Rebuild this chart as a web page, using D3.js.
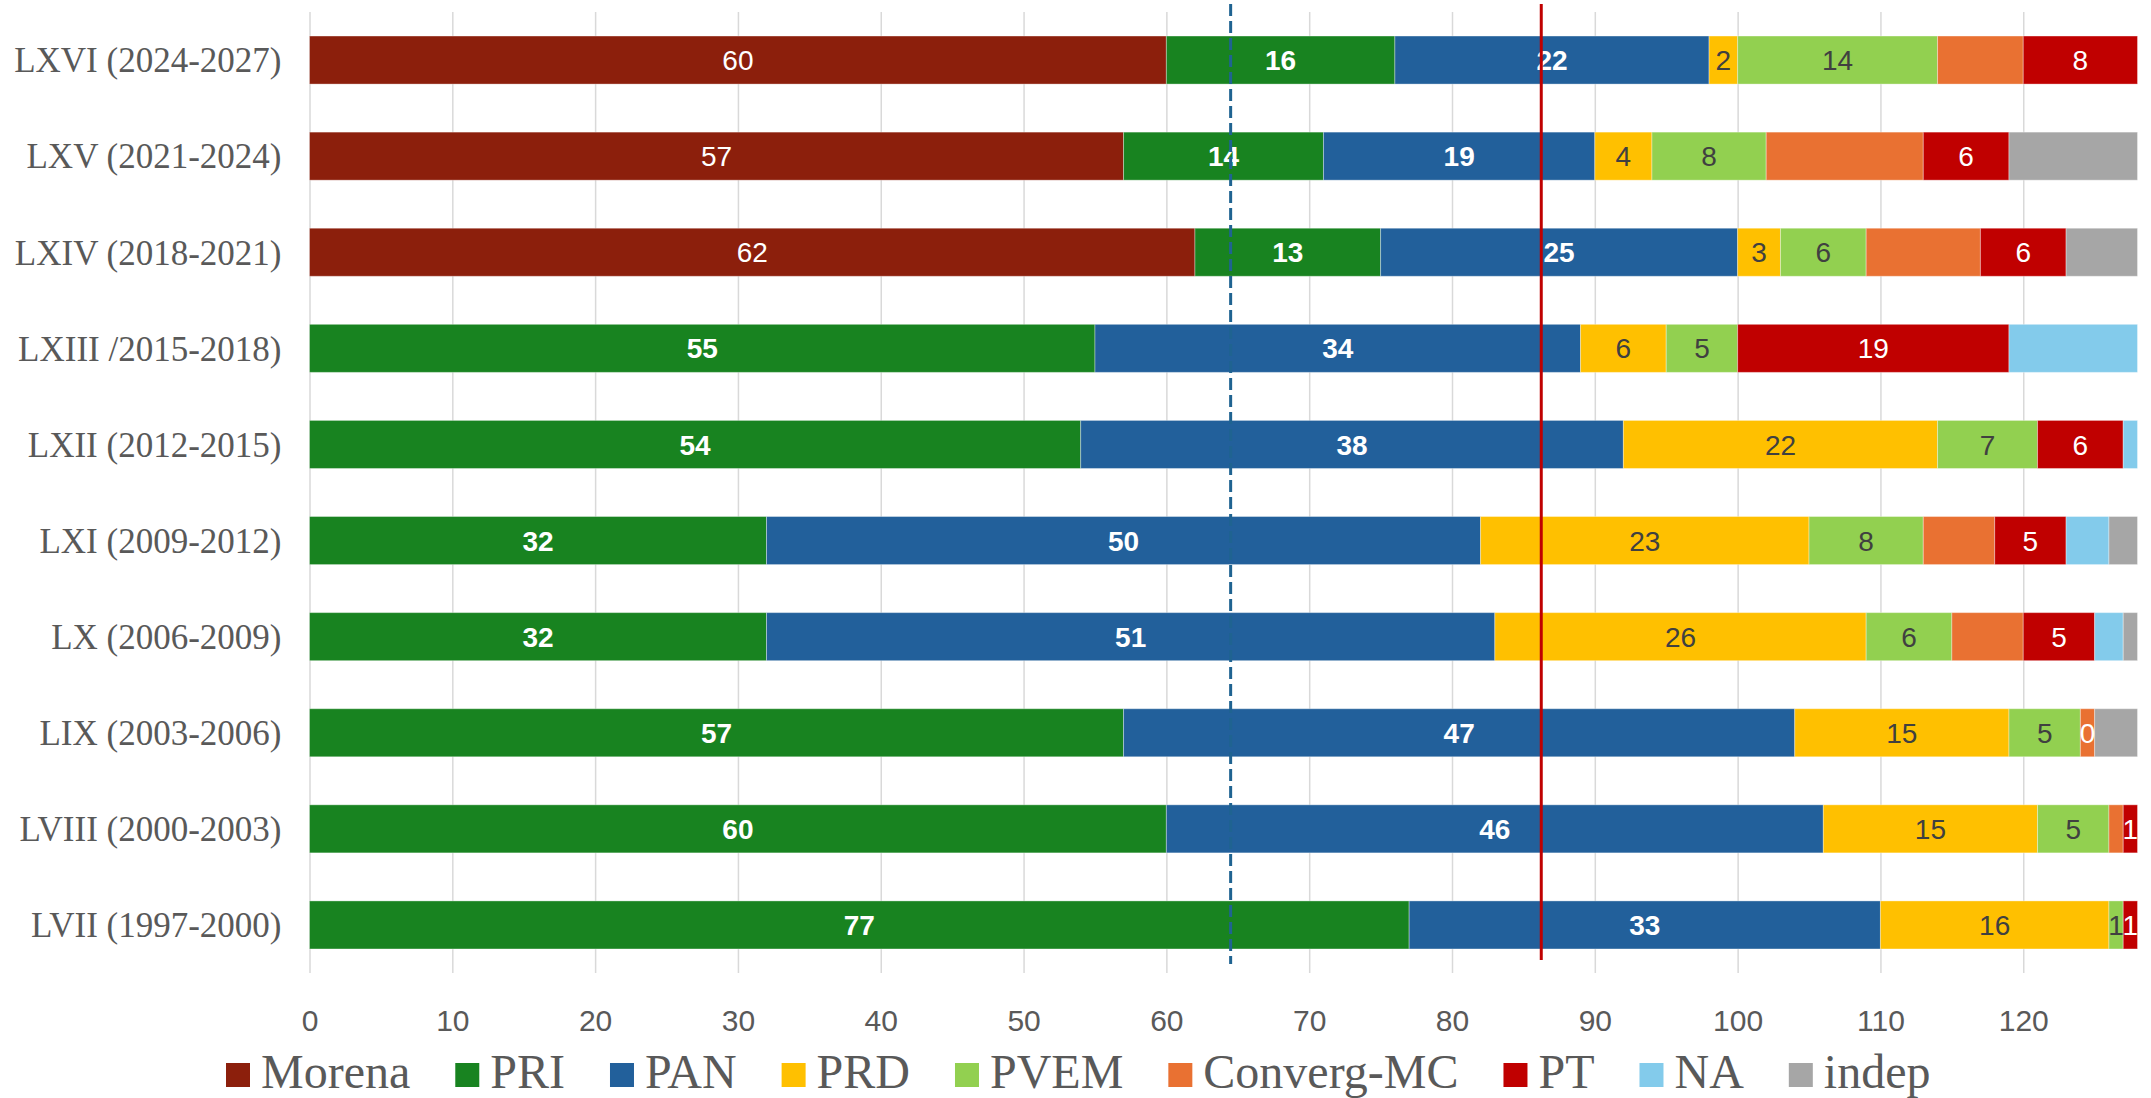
<!DOCTYPE html>
<html>
<head>
<meta charset="utf-8">
<script src="https://cdn.jsdelivr.net/npm/d3@7"></script>
<style>
  body { margin: 0; background: #fff; }
</style>
</head>
<body>
<svg id="chart" width="2151" height="1098"></svg>
<script>
// legislatures, top to bottom
var congresses = ["LXVI (2024-2027)", "LXV (2021-2024)", "LXIV (2018-2021)", "LXIII /2015-2018)",
  "LXII (2012-2015)", "LXI (2009-2012)", "LX (2006-2009)", "LIX (2003-2006)",
  "LVIII (2000-2003)", "LVII (1997-2000)"];

var parties = ["Morena", "PRI", "PAN", "PRD", "PVEM", "Converg-MC", "PT", "NA", "indep"];
var colors = ["#8c1f0c", "#188320", "#22609b", "#ffc000", "#92d050", "#e97132", "#c00000", "#83cbeb", "#a6a6a6"];

// seats per party, same order as congresses
var morena  = [60, 57, 62, 0, 0, 0, 0, 0, 0, 0];
var pri     = [16, 14, 13, 55, 54, 32, 32, 57, 60, 77];
var pan     = [22, 19, 25, 34, 38, 50, 51, 47, 46, 33];
var prd     = [2, 4, 3, 6, 22, 23, 26, 15, 15, 16];
var pvem    = [14, 8, 6, 5, 7, 8, 6, 5, 5, 1];
var converg = [6, 11, 8, 0, 0, 5, 5, 1, 1, 0];
var pt      = [8, 6, 6, 19, 6, 5, 5, 0, 1, 1];
var na      = [0, 0, 0, 9, 1, 3, 2, 0, 0, 0];
var indep   = [0, 9, 5, 0, 0, 2, 1, 3, 0, 0];

// labels as they appear on the converg series (only one shown)
var convergLabels = ["", "", "", "", "", "", "", "0", "", ""];

var xTicks = [0, 10, 20, 30, 40, 50, 60, 70, 80, 90, 100, 110, 120];
var xMax = 128;
var halfLine = 64.5;       // dashed
var twoThirdsLine = 86.25; // red

var series = [morena, pri, pan, prd, pvem, converg, pt, na, indep];

var svg = d3.select("#chart"),
    margin = {top: 12, right: 13.5, bottom: 125, left: 309.5},
    width = +svg.attr("width") - margin.left - margin.right,
    height = +svg.attr("height") - margin.top - margin.bottom;

var x = d3.scaleLinear().domain([0, xMax]).range([margin.left, margin.left + width]);
var y = d3.scaleBand().domain(congresses)
    .range([margin.top, margin.top + height])
    .paddingInner(0.5)
    .paddingOuter(0.25);

// gridlines + tick labels
var xAxis = svg.append("g")
    .attr("transform", "translate(0," + (margin.top + height) + ")")
    .call(d3.axisBottom(x).tickValues(xTicks).tickSizeInner(-height).tickSizeOuter(0).tickPadding(37));
xAxis.select(".domain").remove();
xAxis.selectAll("line").attr("stroke", "#d9d9d9").attr("stroke-width", 1.5);
xAxis.selectAll("text")
    .style("font", "30px 'Liberation Sans', Arial, sans-serif")
    .attr("fill", "#595959");

// stacked segments
var rows = congresses.map(function(c, i) {
  var acc = 0;
  return series.map(function(s, k) {
    var seg = {row: c, i: i, k: k, x0: acc, x1: acc + s[i], v: s[i]};
    acc += s[i];
    return seg;
  }).filter(function(d) { return d.v > 0; });
});
var segs = d3.merge(rows);

svg.append("g").selectAll("rect")
  .data(segs)
  .enter().append("rect")
    .attr("x", function(d) { return x(d.x0); })
    .attr("y", function(d) { return y(d.row); })
    .attr("width", function(d) { return x(d.x1) - x(d.x0); })
    .attr("height", y.bandwidth())
    .attr("fill", function(d) { return colors[d.k]; })
    .attr("stroke", "#fff")
    .attr("stroke-opacity", 0.35)
    .attr("stroke-width", 1);

// data labels
function labelText(d) {
  var p = parties[d.k];
  if (p === "Converg-MC") return convergLabels[d.i];
  if (p === "NA" || p === "indep") return "";
  return d.v;
}
function labelColor(d) {
  var p = parties[d.k];
  return (p === "PRD" || p === "PVEM") ? "#404040" : "#fff";
}

svg.append("g").selectAll("text")
  .data(segs.filter(function(d) { return labelText(d) !== ""; }))
  .enter().append("text")
    .attr("x", function(d) { return (x(d.x0) + x(d.x1)) / 2; })
    .attr("y", function(d) { return y(d.row) + y.bandwidth() / 2; })
    .attr("dy", "0.36em")
    .attr("text-anchor", "middle")
    .style("font-family", "'Liberation Sans', Arial, sans-serif")
    .style("font-size", "28px")
    .style("font-weight", function(d) { return (parties[d.k] === "PRI" || parties[d.k] === "PAN") ? "bold" : "normal"; })
    .attr("fill", labelColor)
    .text(labelText);

// category labels
svg.append("g").selectAll("text")
  .data(congresses)
  .enter().append("text")
    .attr("x", margin.left - 28)
    .attr("y", function(d) { return y(d) + y.bandwidth() / 2; })
    .attr("dy", "0.35em")
    .attr("text-anchor", "end")
    .style("font", "35px 'Liberation Serif', 'Times New Roman', serif")
    .attr("fill", "#595959")
    .text(function(d) { return d; });

// reference lines
svg.append("line")
    .attr("x1", x(halfLine)).attr("x2", x(halfLine))
    .attr("y1", 4).attr("y2", 964)
    .attr("stroke", "#1f6391")
    .attr("stroke-width", 3)
    .attr("stroke-dasharray", "12,5");

svg.append("line")
    .attr("x1", x(twoThirdsLine)).attr("x2", x(twoThirdsLine))
    .attr("y1", 4).attr("y2", 960)
    .attr("stroke", "#c00000")
    .attr("stroke-width", 3);

// legend
var legend = svg.append("g").attr("transform", "translate(226,1088)");
var lx = 0;
parties.forEach(function(p, k) {
  legend.append("rect")
      .attr("x", lx).attr("y", -25)
      .attr("width", 24).attr("height", 24)
      .attr("fill", colors[k]);
  var t = legend.append("text")
      .attr("x", lx + 35)
      .attr("y", 0)
      .style("font", "48px 'Liberation Serif', 'Times New Roman', serif")
      .attr("fill", "#595959")
      .text(p);
  lx += 35 + t.node().getComputedTextLength() + 45;
});
</script>
</body>
</html>
